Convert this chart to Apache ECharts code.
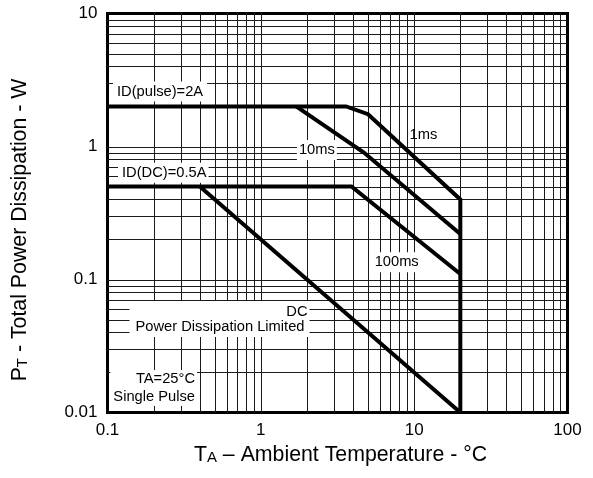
<!DOCTYPE html>
<html>
<head>
<meta charset="utf-8">
<script src="https://cdn.jsdelivr.net/npm/echarts@6/dist/echarts.min.js"></script>
<style>
  html, body { margin: 0; padding: 0; background: #fff; }
  #chart { width: 593px; height: 478px; }
</style>
</head>
<body>
<div id="chart"></div>
<script>
// Axis tick labels (one per decade)
const xTickLabels = ['0.1', '1', '10', '100'];
const yTickLabels = ['0.01', '0.1', '1', '10'];

// Log-grid line values
const xGridValues = [0.2, 0.3, 0.4, 0.5, 0.6, 0.7, 0.8, 0.9, 1,
                     2, 3, 4, 5, 6, 7, 8, 9, 10,
                     20, 30, 40, 50, 60, 70, 80, 90];
const yGridValues = [0.02, 0.03, 0.04, 0.05, 0.06, 0.07, 0.08, 0.09, 0.1,
                     0.2, 0.3, 0.4, 0.5, 0.6, 0.7, 0.8, 0.9, 1,
                     2, 3, 4, 5, 6, 7, 8, 9];

// Safe operating curves: [temperature, power]
const pulse1ms   = [[0.1, 2], [3.6, 2], [5, 1.75], [20, 0.4], [20, 0.01]];
const pulse10ms  = [[1.7, 2], [4.7, 0.9], [20, 0.22]];
const pulse100ms = [[0.1, 0.5], [3.9, 0.5], [20, 0.11]];
const dcLimit    = [[0.4, 0.5], [20, 0.01]];

// In-plot annotations and their anchor points (data units)
const annotationTexts = [
  'ID(pulse)=2A', '10ms', '1ms', 'ID(DC)=0.5A', '100ms',
  'Power Dissipation Limited', 'DC', 'TA=25°C\nSingle Pulse'
];
const annotationAnchors = [
  [0.1086, 2.59], [2.32, 0.941], [11.5, 1.22], [0.1171, 0.635], [7.69, 0.1347],
  [2.077, 0.03695], [2.016, 0.0573], [0.3835, 0.02087]
];

const FONT = '"Liberation Sans", Arial, Helvetica, sans-serif';
const LABEL_SIZE = 14.7;

const annotationStyles = [
  { align: 'left',   va: 'middle', pad: [1, 4, 1, 4], bg: '#fff' },
  { align: 'center', va: 'middle', pad: [1, 2, 1, 2], bg: '#fff' },
  { align: 'center', va: 'middle', pad: 0,            bg: null },
  { align: 'left',   va: 'middle', pad: [1, 2, 1, 4], bg: '#fff' },
  { align: 'center', va: 'middle', pad: [1, 1, 1, 1], bg: '#fff' },
  { align: 'right',  va: 'bottom', pad: [17, 5, 1, 6], bg: '#fff' },
  { align: 'right',  va: 'middle', pad: 0,            bg: null },
  { align: 'right',  va: 'top',    pad: [0, 2, 0, 3], bg: '#fff' }
];

function decadeLabel(labels, minExp) {
  return function (v) {
    const e = Math.round(Math.log10(v));
    return labels[e - minExp] !== undefined ? labels[e - minExp] : '';
  };
}

const curveStyle = { color: '#000', width: 4, join: 'miter' };
function curve(data) {
  return {
    type: 'line', data: data, symbol: 'none', z: 3, silent: true,
    lineStyle: curveStyle, itemStyle: { color: '#000' }, animation: false
  };
}

const titleRich = {
  m: { fontSize: 21.3, fontFamily: FONT, fill: '#000' },
  s: { fontSize: 15, fontFamily: FONT, fill: '#000', verticalAlign: 'bottom' }
};

const chart = echarts.init(document.getElementById('chart'), null, { renderer: 'canvas' });

chart.setOption({
  animation: false,
  backgroundColor: '#fff',
  grid: {
    left: 107.5, right: 25.5, top: 13.5, bottom: 65.5,
    show: true, borderColor: '#000', borderWidth: 3, backgroundColor: '#fff'
  },
  xAxis: {
    type: 'log', logBase: 10, min: 0.1, max: 100,
    axisLine: { show: false }, axisTick: { show: false }, splitLine: { show: false },
    axisLabel: {
      color: '#000', fontFamily: FONT, fontSize: 17, margin: 9,
      formatter: decadeLabel(xTickLabels, -1)
    }
  },
  yAxis: {
    type: 'log', logBase: 10, min: 0.01, max: 10,
    axisLine: { show: false }, axisTick: { show: false }, splitLine: { show: false },
    axisLabel: {
      color: '#000', fontFamily: FONT, fontSize: 17, margin: 10,
      formatter: decadeLabel(yTickLabels, -2)
    }
  },
  graphic: [
    {
      type: 'text', x: 340.5, y: 455, silent: true,
      style: {
        text: '{m|T}{s|A}{m| – Ambient Temperature - °C}',
        align: 'center', verticalAlign: 'middle', fill: '#000', rich: titleRich
      }
    },
    {
      type: 'text', x: 20, y: 230, rotation: Math.PI / 2, silent: true,
      style: {
        text: '{m|P}{s|T}{m| - Total Power Dissipation - W}',
        align: 'center', verticalAlign: 'middle', fill: '#000', rich: titleRich
      }
    }
  ],
  series: [
    // vertical grid lines
    {
      type: 'custom', z: 1, silent: true,
      data: xGridValues.map(v => [v, 1]),
      encode: { x: 0, y: 1 },
      renderItem: function (params, api) {
        const v = api.value(0);
        const a = api.coord([v, 10]);
        const b = api.coord([v, 0.01]);
        const x = Math.round(a[0]) + 0.5;
        return { type: 'line', shape: { x1: x, y1: a[1], x2: x, y2: b[1] },
                 style: { stroke: '#1a1a1a', lineWidth: 1 } };
      }
    },
    // horizontal grid lines
    {
      type: 'custom', z: 1, silent: true,
      data: yGridValues.map(v => [1, v]),
      encode: { x: 0, y: 1 },
      renderItem: function (params, api) {
        const v = api.value(1);
        const a = api.coord([0.1, v]);
        const b = api.coord([100, v]);
        const y = Math.round(a[1]) + 0.5;
        return { type: 'line', shape: { x1: a[0], y1: y, x2: b[0], y2: y },
                 style: { stroke: '#1a1a1a', lineWidth: 1 } };
      }
    },
    // annotations
    {
      type: 'custom', z: 2, silent: true,
      data: annotationAnchors,
      encode: { x: 0, y: 1 },
      renderItem: function (params, api) {
        const i = params.dataIndex;
        const p = api.coord([api.value(0), api.value(1)]);
        const s = annotationStyles[i];
        const style = {
          text: annotationTexts[i], fontFamily: FONT, fontSize: LABEL_SIZE,
          fill: '#000', align: s.align, verticalAlign: s.va, lineHeight: 18,
          padding: s.pad
        };
        if (s.bg) style.backgroundColor = s.bg;
        return { type: 'text', x: p[0], y: p[1], style: style };
      }
    },
    curve(pulse1ms),
    curve(pulse10ms),
    curve(pulse100ms),
    curve(dcLimit)
  ]
});
</script>
</body>
</html>
